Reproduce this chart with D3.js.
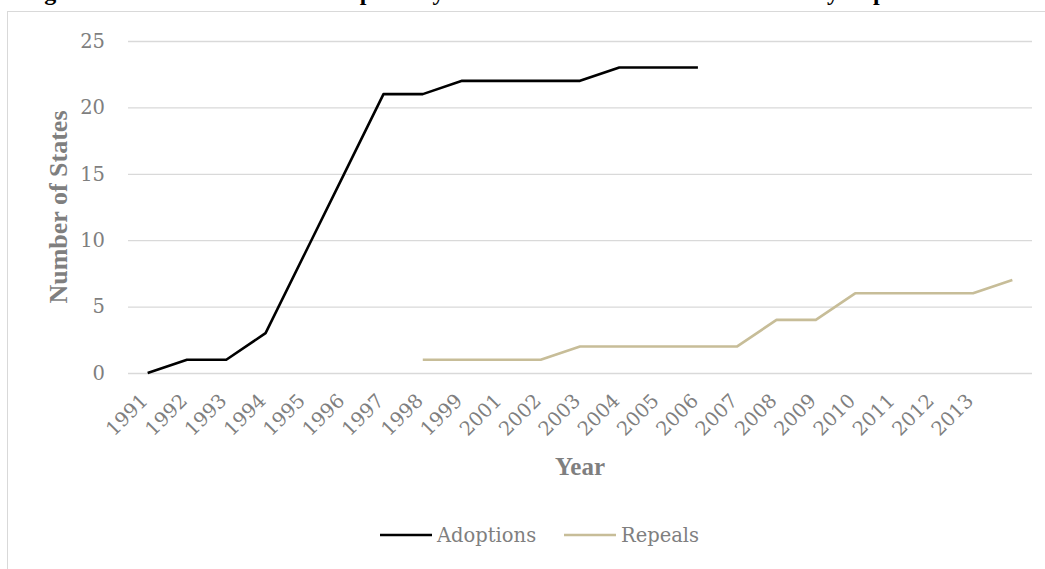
<!DOCTYPE html>
<html>
<head>
<meta charset="utf-8">
<script src="https://cdn.jsdelivr.net/npm/d3@7/dist/d3.min.js"></script>
<style>
  html, body { margin: 0; padding: 0; background: #fff; }
  svg { display: block; }
</style>
</head>
<body>
<div id="chart"></div>
<script>
// Category labels along the x axis (the final point has no label)
const years = ["1991","1992","1993","1994","1995","1996","1997","1998","1999",
               "2001","2002","2003","2004","2005","2006","2007","2008","2009",
               "2010","2011","2012","2013",""];

// Cumulative number of states with the law adopted
const adoptions = [0,1,1,3,9,15,21,21,22,22,22,22,23,23,23,
                   null,null,null,null,null,null,null,null];

// Cumulative number of states that repealed it
const repeals = [null,null,null,null,null,null,null,1,1,1,1,2,2,2,2,2,4,4,6,6,6,6,7];

const yTicks = [0,5,10,15,20,25];

const seriesNames = ["Adoptions","Repeals"];
const seriesColors = ["#000000","#c7bd98"];

const W = 1045, H = 569;
const plot = { left: 128, right: 1032, top: 41, bottom: 373 };

const svg = d3.select("#chart").append("svg")
  .attr("width", W).attr("height", H);

// chart frame
svg.append("rect")
  .attr("x", 7.5).attr("y", 11.5)
  .attr("width", 1200).attr("height", 700)
  .attr("fill", "#fff").attr("stroke", "#d9d9d9").attr("stroke-width", 1);

// title (runs off the top edge)
svg.append("text")
  .attr("x", 23).attr("y", 0)
  .attr("font-family", "'Liberation Serif', 'Times New Roman', serif")
  .attr("font-weight", "bold").attr("font-size", 24)
  .attr("fill", "#000")
  .text("Figure 1: Three Strikes Law Adoption by Year and State and Cumulative Policy Repeal");

const x = d3.scalePoint()
  .domain(d3.range(years.length))
  .range([plot.left, plot.right])
  .padding(0.5);

const y = d3.scaleLinear()
  .domain([0, 25])
  .range([plot.bottom, plot.top]);

const serif = "'DejaVu Serif', serif";
const boldSerif = "'Liberation Serif', 'Times New Roman', serif";
const gray = "#7f7f7f";

// gridlines + y labels
const yAxis = d3.axisLeft(y).tickValues(yTicks)
  .tickSize(-(plot.right - plot.left)).tickPadding(23);
const gy = svg.append("g")
  .attr("transform", `translate(${plot.left},0)`)
  .call(yAxis);
gy.select(".domain").remove();
gy.selectAll(".tick line").attr("stroke", "#d9d9d9").attr("stroke-width", 1.3);
gy.selectAll(".tick text")
  .attr("font-family", serif).attr("font-size", 19.5).attr("fill", gray);

// x labels, rotated
const xAxis = d3.axisBottom(x).tickFormat(i => years[i]).tickSize(0);
const gx = svg.append("g")
  .attr("transform", `translate(0,${plot.bottom})`)
  .call(xAxis);
gx.select(".domain").remove();
gx.selectAll(".tick text")
  .attr("font-family", serif).attr("font-size", 19.5).attr("fill", gray)
  .attr("text-anchor", "end")
  .attr("dy", null).attr("y", 0)
  .attr("transform", "translate(1,29) rotate(-45)");

// axis titles
svg.append("text")
  .attr("transform", `translate(67,${(plot.top + plot.bottom) / 2}) rotate(-90)`)
  .attr("text-anchor", "middle")
  .attr("font-family", boldSerif).attr("font-weight", "bold").attr("font-size", 26)
  .attr("fill", gray)
  .text("Number of States");

svg.append("text")
  .attr("x", (plot.left + plot.right) / 2).attr("y", 475)
  .attr("text-anchor", "middle")
  .attr("font-family", boldSerif).attr("font-weight", "bold").attr("font-size", 25)
  .attr("fill", gray)
  .text("Year");

// lines
const line = d3.line()
  .defined(d => d != null)
  .x((d, i) => x(i))
  .y(d => y(d));

[adoptions, repeals].forEach((vals, k) => {
  svg.append("path")
    .datum(vals)
    .attr("fill", "none")
    .attr("stroke", seriesColors[k])
    .attr("stroke-width", 2.6)
    .attr("stroke-linejoin", "round")
    .attr("d", line);
});

// legend
const legendY = 535;
const legendItems = [{ x0: 380 }, { x0: 564 }];
seriesNames.forEach((name, k) => {
  const g = svg.append("g").attr("transform", `translate(${legendItems[k].x0},${legendY})`);
  g.append("line").attr("x1", 0).attr("x2", 52).attr("y1", 0).attr("y2", 0)
    .attr("stroke", seriesColors[k]).attr("stroke-width", 2.6);
  g.append("text").attr("x", 57).attr("y", 7)
    .attr("font-family", serif).attr("font-size", 19.5).attr("fill", gray)
    .text(name);
});
</script>
</body>
</html>
